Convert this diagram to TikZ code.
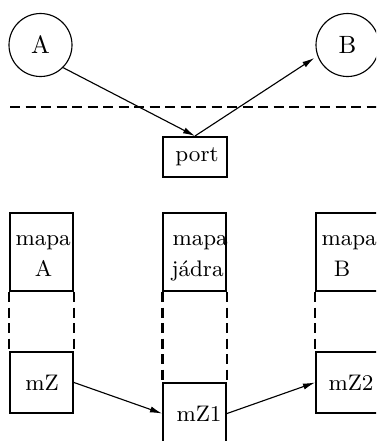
\documentclass[tikz,border=0pt]{standalone}
\usetikzlibrary{arrows.meta}
\begin{document}
\begin{tikzpicture}[x=0.4pt,y=-0.4pt,
  circ/.style={draw,circle,line width=0.45pt,minimum size=25.2pt,inner sep=0pt,font=\fontsize{10}{12}\selectfont},
  mapbox/.style={draw,rectangle,line width=0.8pt,minimum width=25.2pt,minimum height=31.2pt,inner sep=0pt},
  zbox/.style={draw,rectangle,line width=0.8pt,minimum width=25.2pt,minimum height=24.4pt,inner sep=0pt},
  portbox/.style={draw,rectangle,line width=0.8pt,minimum width=25.6pt,minimum height=16pt,inner sep=0pt},
  txt/.style={inner sep=0pt,font=\fontsize{9}{11}\selectfont},
  sep/.style={line width=0.8pt,dash pattern=on 4pt off 2.2pt},
  conn/.style={line width=0.45pt,-{Latex[length=4.8pt,width=2.5pt]}}]
\useasboundingbox (0,0) rectangle (376,441);
\clip (0,0) rectangle (376,441);

% processes and the boundary between them
\node[circ] (A) at (40.5,45) {A};
\node[circ] (B) at (347.5,45) {B};
\coordinate (lineL) at (10,107);
\coordinate (lineR) at (380,107);
\draw[sep] (lineL) -- (lineR);

% port
\node[portbox] (port) at (195,157) {};
\node[txt,anchor=base] (tport) at (197,161) {port};
\draw[conn] (A.-45) -- (port.north);
\draw[conn,shorten >=1.5pt] (port.north) -- (B.200);

% address maps
\node[mapbox] (mapA) at (41.5,252) {};
\node[mapbox] (mapJ) at (194.5,252) {};
\node[mapbox] (mapB) at (347.5,252) {};
\node[txt,anchor=base west] (mapA1) at (15,245) {mapa};
\node[txt,anchor=base] (mapA2) at (43.5,276) {A};
\node[txt,anchor=base west] (mapJ1) at (172,245) {mapa};
\node[txt,anchor=base west] (mapJ2) at (171,276) {jádra};
\node[txt,anchor=base west] (mapB1) at (321,245) {mapa};
\node[txt,anchor=base] (mapB2) at (342,276) {B};

% mapped regions
\node[zbox] (mZ) at (41.5,382.5) {};
\node[zbox] (mZ1) at (194.5,413.5) {};
\node[zbox] (mZ2) at (347.5,382.5) {};
\node[txt,anchor=base] (tmZ) at (42,390) {mZ};
\node[txt,anchor=base] (tmZ1) at (199,421) {mZ1};
\node[txt,anchor=base] (tmZ2) at (351,390) {mZ2};

% dashed sides joining maps and regions
\draw[sep] (mapA.south west) -- (mZ.north west);
\draw[sep] (mapA.south east) -- (mZ.north east);
\draw[sep,line width=1.2pt] (mapJ.south west) -- (mZ1.north west);
\draw[sep] (mapJ.south east) -- (mZ1.north east);
\draw[sep] (mapB.south west) -- (mZ2.north west);
\draw[sep] (mapB.south east) -- (mZ2.north east);

% mapping between regions
\draw[conn] (mZ.east) -- (mZ1.west);
\draw[conn] (mZ1.east) -- (mZ2.west);
\end{tikzpicture}
\end{document}
